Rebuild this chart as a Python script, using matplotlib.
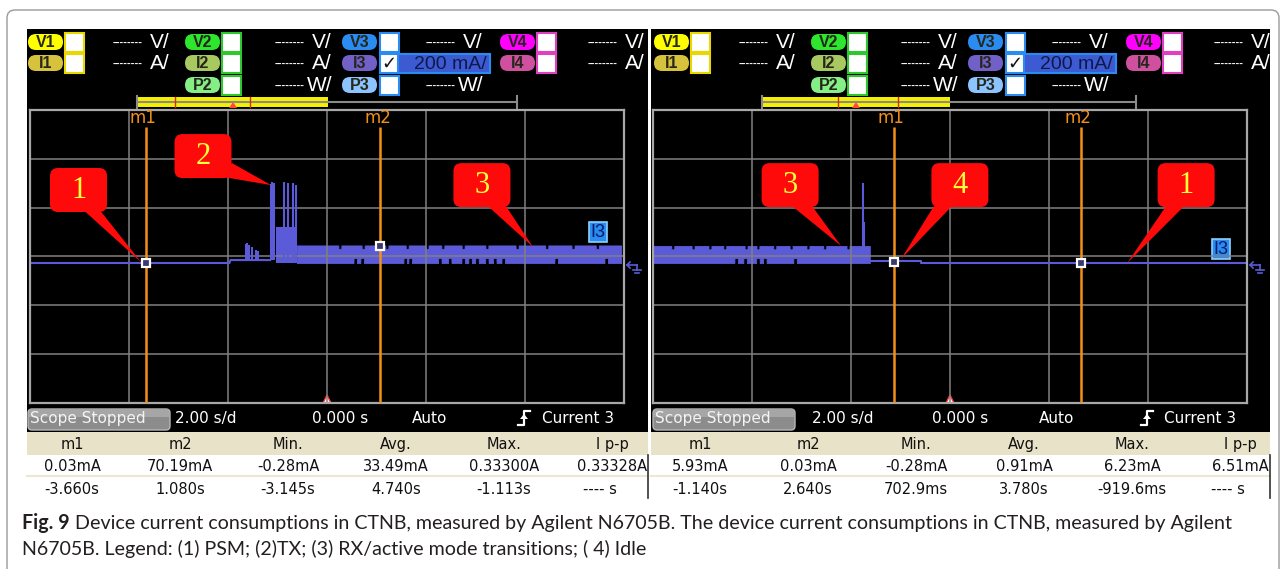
import matplotlib
matplotlib.use("Agg")
import numpy as np
import matplotlib.pyplot as plt
from matplotlib.patches import Rectangle, FancyBboxPatch, Polygon

# ------------------------------------------------------------------ data
T_MIN, T_MAX = -6.0, 6.0            # 2.00 s/d, 6 divisions
I_MIN, I_MAX = -573.4, 626.7        # 200 mA/div, 6 divisions
grid_t = [-4, -2, 0, 2, 4]
grid_mA = [426.7, 226.7, 26.7, -173.3, -373.3]

marker_labels = ["m1", "m2"]
left_marker_t = [-3.660, 1.080]
left_marker_mA = [0.03, 70.19]
right_marker_t = [-1.140, 2.640]
right_marker_mA = [5.93, 0.03]

table_headers = ["m1", "m2", "Min.", "Avg.", "Max.", "I p-p"]
left_values = ["0.03mA", "70.19mA", "-0.28mA", "33.49mA", "0.33300A", "0.33328A"]
left_times = ["-3.660s", "1.080s", "-3.145s", "4.740s", "-1.113s", "---- s"]
right_values = ["5.93mA", "0.03mA", "-0.28mA", "0.91mA", "6.23mA", "6.51mA"]
right_times = ["-1.140s", "2.640s", "702.9ms", "3.780s", "-919.6ms", "---- s"]

# left capture: PSM -> TX -> RX
left_line_t = [-6.00, -1.97, -1.95, -1.15]
left_line_mA = [0.03, 0.03, 12.0, 12.0]
left_spike_t = [-1.64, -1.61, -1.57, -1.52, -1.43, -1.39,
                -1.137, -1.113, -1.07, -0.86, -0.79, -0.69, -0.63]
left_spike_mA = [78, 80, 72, 65, 55, 50,
                 322, 333, 326, 330, 327, 328, 318]
left_tx_t = [-1.03, -0.61]
left_tx_mA = [147, 147]
left_band_t = [-0.61, 5.94]
left_band_mA = [0.03, 72.0]
left_top_notch_t = [0.26, 0.73, 1.21, 1.62, 2.02, 2.34, 2.75, 3.23, 3.84, 4.44, 4.97, 5.46]
left_bot_notch_t = [0.57, 0.71, 1.58, 1.68, 2.28, 2.48, 2.75, 2.89, 3.03, 3.23,
                    3.39, 3.56, 4.63, 5.64]

# right capture: RX -> Idle -> PSM
right_band_t = [-6.00, -1.62]
right_band_mA = [0.03, 70.0]
right_top_notch_t = [-5.60, -5.19, -4.85, -4.55, -4.12, -3.88, -3.54, -3.21, -2.87, -2.53, -2.06]
right_bot_notch_t = [-4.32, -4.14, -3.88, -3.74, -3.13]
right_spike_t = [-1.76, -1.73]
right_spike_mA = [328, 168]
right_line_t = [-1.62, -0.59, -0.59, 6.00]
right_line_mA = [6.2, 6.2, 0.03, 0.03]

caption_bold = "Fig. 9"
caption_line1 = ("Device current consumptions in CTNB, measured by Agilent N6705B. "
                 "The device current consumptions in CTNB, measured by Agilent")
caption_line2 = ("N6705B. Legend: (1) PSM; (2)TX; (3) RX/active mode transitions; ( 4) Idle")

# ------------------------------------------------------------------ style / layout
W, H, DPI = 1287, 569, 100
TRACE = "#5b5bd9"
ORANGE = "#f39019"
GRID = "#808080"
NARROW = ["Liberation Sans Narrow", "Liberation Sans", "DejaVu Sans"]
SCOPE_FONT = ["DejaVu Sans"]
CAPTION_FONT = ["Lato", "Liberation Sans", "DejaVu Sans"]

fig = plt.figure(figsize=(W / DPI, H / DPI), dpi=DPI)
ax0 = fig.add_axes([0, 0, 1, 1])
ax0.set_xlim(0, W)
ax0.set_ylim(H, 0)
ax0.axis("off")

# outer frame
ax0.add_patch(FancyBboxPatch((7, 10), 1272, 600, boxstyle="round,pad=0,rounding_size=8",
                             fc="none", ec="#9a9a9a", lw=1.0))

# screens
for x0, w in [(27, 621), (651, 619)]:
    ax0.add_patch(Rectangle((x0, 29), w, 403, fc="black", ec="none"))
    ax0.add_patch(Rectangle((x0, 432), w, 23, fc="#e8e2c8", ec="none"))
    ax0.plot([x0, x0 + w], [476, 476], color="#ece6d2", lw=1.5)


def pill(x0, y0, w, h, fc, label):
    ax0.add_patch(FancyBboxPatch((x0, y0), w, h,
                                 boxstyle="round,pad=0,rounding_size=%f" % (h / 2),
                                 fc=fc, ec="none"))
    ax0.text(x0 + w / 2, y0 + h / 2 + 0.5, label, ha="center", va="center",
             fontsize=11.5, fontweight="bold", color="#26261a", family=NARROW)


def checkbox(x0, y0, w, h, ec):
    ax0.add_patch(Rectangle((x0, y0), w, h, fc="white", ec=ec, lw=1.5))


def unit(xr, yc, u):
    ax0.text(xr - 27, yc + 1, "--------", ha="right", va="center", fontsize=8,
             color="white", family=NARROW, fontweight="bold")
    ax0.text(xr, yc, u, ha="right", va="center", fontsize=15, color="white", family=NARROW)


ROWS = [34, 55, 77]
H_PILL = 16
for dx in [0, 626]:
    cols = [
        (28, 65, 170, ["V1", "I1"], ["#ffff00", "#d6c23c"], "#e8d800", ["V/", "A/"]),
        (185, 222, 332, ["V2", "I2", "P2"], ["#2ee62e", "#a8c860", "#86ee86"], "#2ec82e", ["V/", "A/", "W/"]),
        (342, 380, 483, ["V3", "I3", "P3"], ["#2a8cf0", "#7060c8", "#8cc4ff"], "#2a8cf0", ["V/", None, "W/"]),
        (500, 537, 645, ["V4", "I4"], ["#ff00ff", "#d050a0"], "#e040c0", ["V/", "A/"]),
    ]
    for px, bx, ux, labels, colors, bcol, units in cols:
        for r, (lab, c, u) in enumerate(zip(labels, colors, units)):
            y0 = ROWS[r]
            pill(px + dx, y0, 35, H_PILL, c, lab)
            checkbox(bx + dx, y0 - 1, 19, 19, bcol)
            if u is not None:
                unit(ux + dx, y0 + 8, u)
    # I3 current scale
    ax0.add_patch(Rectangle((398 + dx, 54), 92, 19, fc="#3c5ad2", ec="#2a8cf0", lw=1.5))
    ax0.text(389 + dx, 64, "\u2713", ha="center", va="center", fontsize=13,
             color="#101010", fontweight="bold")
    ax0.text(487 + dx, 64, "200 mA/", ha="right", va="center", fontsize=14,
             color="#101848", family=NARROW)

# timeline bars
for x0, x1, x2, reds, tri in [(137, 328, 517, [175, 250], 233),
                              (762, 950, 1136, [838, 898], 856)]:
    ax0.plot([x0, x2], [102, 102], color="#8a8a8a", lw=1.5)
    ax0.plot([x2, x2], [96, 108], color="#8a8a8a", lw=1.5)
    ax0.plot([x0, x0], [96, 108], color="#8a8a8a", lw=1.5)
    ax0.add_patch(Rectangle((x0, 97), x1 - x0, 4, fc="#f6f000", ec="none"))
    ax0.add_patch(Rectangle((x0, 103), x1 - x0, 4, fc="#f6f000", ec="none"))
    for rx in reds:
        ax0.plot([rx, rx], [97, 107], color="#d03010", lw=1)
    ax0.add_patch(Polygon([[tri - 4, 108], [tri + 4, 108], [tri, 102]], fc="#ff4a3a", ec="none"))

# status bar
for dx, sx in [(0, [206, 340, 430, 578, 524]), (625, [843, 960, 1057, 1200, 1147])]:
    ax0.add_patch(FancyBboxPatch((28 + dx, 409), 142, 21, boxstyle="round,pad=0,rounding_size=4",
                                 fc="#8c8c8c", ec="#b8b8b8", lw=1))
    ax0.add_patch(Rectangle((29 + dx, 409), 140, 8, fc="#a6a6a6", ec="none"))
    ax0.text(88 + dx, 418, "Scope Stopped", ha="center", va="center", fontsize=11,
             color="#f4f4f4", family=SCOPE_FONT)
    ax0.text(sx[0], 418, "2.00 s/d", ha="center", va="center", fontsize=11, color="white",
             family=SCOPE_FONT)
    ax0.text(sx[1], 418, "0.000 s", ha="center", va="center", fontsize=11, color="white",
             family=SCOPE_FONT)
    ax0.text(sx[2], 418, "Auto", ha="center", va="center", fontsize=11, color="white",
             family=SCOPE_FONT)
    ax0.text(sx[3], 418, "Current 3", ha="center", va="center", fontsize=11, color="white",
             family=SCOPE_FONT)
    tx = sx[4]
    ax0.plot([tx - 6, tx, tx, tx + 6], [425, 425, 411, 411], color="white", lw=1.6)
    ax0.add_patch(Polygon([[tx - 4, 419], [tx + 4, 419], [tx, 414]], fc="white", ec="none"))

# table
for centers, vals, tims in [([72, 180, 288, 396, 504, 612], left_values, left_times),
                            ([700, 808, 916, 1024, 1132, 1240], right_values, right_times)]:
    for i, (cx, hd, v, tm) in enumerate(zip(centers, table_headers, vals, tims)):
        ax0.text(cx, 444, hd, ha="center", va="center", fontsize=10.5, color="#111111",
                 family=SCOPE_FONT)
        ax0.text(cx, 466, v, ha="center", va="center", fontsize=10.5, color="#111111",
                 family=SCOPE_FONT)
        ax0.text(cx - (12 if i == 5 else 0), 489, tm, ha="center", va="center", fontsize=10.5,
                 color="#111111", family=SCOPE_FONT)
for vx in [648, 1270]:
    ax0.plot([vx, vx], [455, 498], color="#333333", lw=1.2)

# I3 tags and ground symbols
for (x0, y0), gx in [((589, 222), 627), ((1212, 239), 1250)]:
    ax0.add_patch(Rectangle((x0, y0), 18, 20, fc="#2a8cf0", ec="#8cd0ff", lw=1.2))
    ax0.text(x0 + 9, y0 + 10.5, "I3", ha="center", va="center", fontsize=13,
             color="#0a1a6a", family=NARROW)
    ax0.plot([gx, gx + 10], [265, 265], color="#5b5bd9", lw=1.2)
    ax0.plot([gx + 3, gx, gx + 3], [262, 265, 268], color="#5b5bd9", lw=1.2)
    ax0.plot([gx + 10, gx + 10], [265, 270], color="#5b5bd9", lw=1.2)
    ax0.plot([gx + 6, gx + 14], [270, 270], color="#5b5bd9", lw=1.2)
    ax0.plot([gx + 8, gx + 12], [273, 273], color="#5b5bd9", lw=1.2)

# caption (font size fitted so line 1 ends where the reference's does)
r = fig.canvas.get_renderer()
cap_kw = dict(color="#231f20", family=CAPTION_FONT, va="center", ha="left")
fsz = 13.0
tb = ax0.text(22, 523, caption_bold, fontsize=fsz, fontweight="bold", **cap_kw)
t1 = ax0.text(0, 523, caption_line1, fontsize=fsz, **cap_kw)
for _ in range(3):
    x_after = tb.get_window_extent(renderer=r).x1 + 5
    t1.set_x(x_after)
    wd = t1.get_window_extent(renderer=r).width
    fsz = fsz * (1232 - x_after) / wd
    tb.set_fontsize(fsz)
    t1.set_fontsize(fsz)
x_after = tb.get_window_extent(renderer=r).x1 + 5
t1.set_x(x_after)
ax0.text(22, 549, caption_line2, fontsize=fsz, **cap_kw)

# ------------------------------------------------------------------ scope plots
PX_W, PX_H = 594, 293
S_PER_PX = (T_MAX - T_MIN) / PX_W
MA_PER_PX = (I_MAX - I_MIN) / PX_H


def make_scope(x0):
    ax = fig.add_axes([x0 / W, 1 - 403 / H, PX_W / W, PX_H / H])
    ax.set_facecolor("none")
    ax.set_xlim(T_MIN, T_MAX)
    ax.set_ylim(I_MIN, I_MAX)
    ax.set_xticks(grid_t)
    ax.set_yticks(grid_mA)
    ax.tick_params(length=0, labelbottom=False, labelleft=False)
    ax.grid(True, color=GRID, lw=1.1)
    for s in ax.spines.values():
        s.set_color("#a8a8a8")
        s.set_linewidth(1.6)
    return ax


def band(ax, t_rng, lev, top_notch, bot_notch):
    tt = np.linspace(t_rng[0], t_rng[1], 4000)
    lo = np.full_like(tt, lev[0])
    hi = np.full_like(tt, lev[1])
    for n in top_notch:
        hi[np.abs(tt - n) < 0.03] = lev[1] - 14
    for n in bot_notch:
        lo[np.abs(tt - n) < 0.035] = 20
    ax.fill_between(tt, lo, hi, color=TRACE, lw=0.6, edgecolor=TRACE)


def markers(ax, mt, mv):
    ax.vlines(mt, I_MIN, 557, color=ORANGE, lw=1.8, zorder=3)
    for t, lab in zip(mt, marker_labels):
        ax.text(t - 0.05, 592, lab, ha="center", va="center", color=ORANGE, fontsize=12,
                family=SCOPE_FONT)
    ax.plot(mt, mv, "s", ms=6, mfc="#3a3a70", mec="white", mew=1.6, zorder=5)


def callout(ax, label, cx, cy, tip, base_px):
    bw, bh = 57 * S_PER_PX, 44 * MA_PER_PX
    ax.add_patch(FancyBboxPatch((cx - bw / 2, cy - bh / 2), bw, bh,
                                boxstyle="round,pad=0,rounding_size=%f" % (8 * S_PER_PX),
                                mutation_aspect=MA_PER_PX / S_PER_PX,
                                fc="#ff0a0a", ec="none", zorder=6))
    pts = [[cx + dx * S_PER_PX, cy - dy * MA_PER_PX] for dx, dy in base_px]
    ax.add_patch(Polygon([pts[0], list(tip), pts[1]], fc="#ff0a0a", ec="none", zorder=6))
    ax.text(cx, cy, label, ha="center", va="center", fontsize=22, color="#ffff3c",
            family=["Liberation Serif", "DejaVu Serif"], zorder=7)


axL = make_scope(30)
axL.plot(left_line_t, left_line_mA, color=TRACE, lw=1.5)
axL.vlines(left_spike_t, 12, left_spike_mA, color=TRACE, lw=1.5)
axL.fill_between(left_tx_t, 0, left_tx_mA, color=TRACE, lw=0)
band(axL, left_band_t, left_band_mA, left_top_notch_t, left_bot_notch_t)
markers(axL, left_marker_t, left_marker_mA)
callout(axL, "1", -5.02, 299, (-3.75, 2), [(6, 21), (22, 21)])
callout(axL, "2", -2.505, 438, (-1.13, 319), [(15, 20), (29, 7)])
callout(axL, "3", 3.13, 319, (4.16, 66), [(6, 21), (24, 21)])

axR = make_scope(653)
band(axR, right_band_t, right_band_mA, right_top_notch_t, right_bot_notch_t)
axR.vlines(right_spike_t, 60, right_spike_mA, color=TRACE, lw=1.5)
axR.plot(right_line_t, right_line_mA, color=TRACE, lw=1.5)
markers(axR, right_marker_t, right_marker_mA)
callout(axR, "3", -3.23, 319, (-2.20, 70), [(2, 21), (22, 21)])
callout(axR, "4", 0.20, 319, (-0.99, 16), [(-26, 21), (-8, 21)])
callout(axR, "1", 4.77, 319, (3.58, 0), [(-20, 21), (-2, 21)])

# trigger position markers
for x in [327, 950]:
    ax0.add_patch(Polygon([[x - 4, 403], [x + 4, 403], [x, 395]], fc="white", ec="#ff3030", lw=1,
                          zorder=10))

fig.savefig("out.png", dpi=DPI, facecolor="white")
